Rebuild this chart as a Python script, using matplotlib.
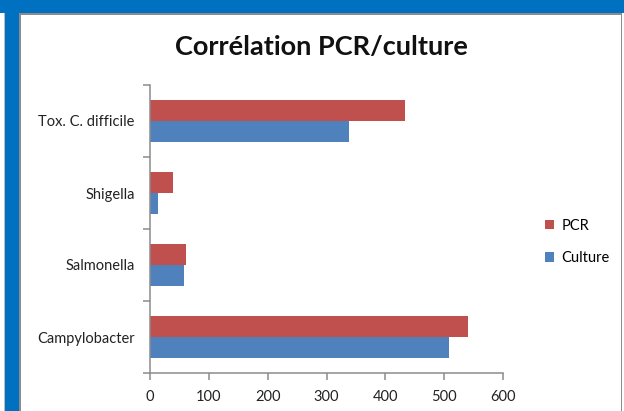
import matplotlib
matplotlib.use('Agg')
import matplotlib.pyplot as plt
from matplotlib.patches import Rectangle
import numpy as np

# data (bottom to top, as in the chart)
categories = ['Campylobacter', 'Salmonella', 'Shigella', 'Tox. C. difficile']
pcr = [540, 61, 39, 433]
culture = [508, 57, 14, 338]
x_ticks = [0, 100, 200, 300, 400, 500, 600]

W, H = 624, 411
plt.rcParams['font.family'] = ['Lato', 'DejaVu Sans']

fig = plt.figure(figsize=(W / 100, H / 100), dpi=100)
fig.patch.set_facecolor('white')


def box(x0, y0, x1, y1, **kw):
    # rectangle given in pixel coords, y down
    fig.patches.append(Rectangle((x0 / W, 1 - y1 / H), (x1 - x0) / W, (y1 - y0) / H,
                                 transform=fig.transFigure, figure=fig, lw=0, **kw))


# slide background / chart frame
box(0, 0, W, 13, color='#0070C0')
box(5, 0, 19, H, color='#0070C0')
box(3.5, 13, 5, H, color='#BDBDBD')
box(19, 13, 21, H, color='#8C8C8C')
box(19, 13, 622, 15, color='#8C8C8C')
box(620.5, 13, 622, H, color='#8C8C8C')

ax = fig.add_axes([150 / W, 1 - 373 / H, 353 / W, 288 / H])
y = np.arange(len(categories))
bh = 1 / 3.5
b_pcr = ax.barh(y + bh / 2, pcr, height=bh, color='#C0504D', label='PCR')
b_cul = ax.barh(y - bh / 2, culture, height=bh, color='#4F81BD', label='Culture')

ax.set_xlim(0, 600)
ax.set_ylim(-0.5, len(categories) - 0.5)
for s in ['top', 'right']:
    ax.spines[s].set_visible(False)
for s in ['left', 'bottom']:
    ax.spines[s].set_color('#8C8C8C')
    ax.spines[s].set_linewidth(1.1)

ax.set_xticks(x_ticks)
ax.set_yticks(np.arange(len(categories) + 1) - 0.5)
ax.set_yticklabels([])
ax.set_yticks(y, minor=True)
ax.set_yticklabels(categories, minor=True)
ax.tick_params(axis='y', which='major', length=5, color='#8C8C8C', width=1.1)
ax.tick_params(axis='y', which='minor', length=0, pad=11, labelsize=10.5, labelcolor='#222222')
ax.tick_params(axis='x', length=5, color='#8C8C8C', width=1.1, pad=7, labelsize=10.5, labelcolor='#222222')

ax.legend(handles=[b_pcr, b_cul], loc='center left', bbox_to_anchor=(538 / W, 1 - 242 / H),
          bbox_transform=fig.transFigure, frameon=False, fontsize=10.5, handlelength=0.6,
          handleheight=0.6, labelspacing=1.25, handletextpad=0.5, borderpad=0)

fig.text(321 / W, 1 - 47 / H, 'Corrélation PCR/culture', ha='center', va='center',
         fontsize=19.5, fontweight='bold', color='#111111')

fig.savefig('out.png', dpi=100)
